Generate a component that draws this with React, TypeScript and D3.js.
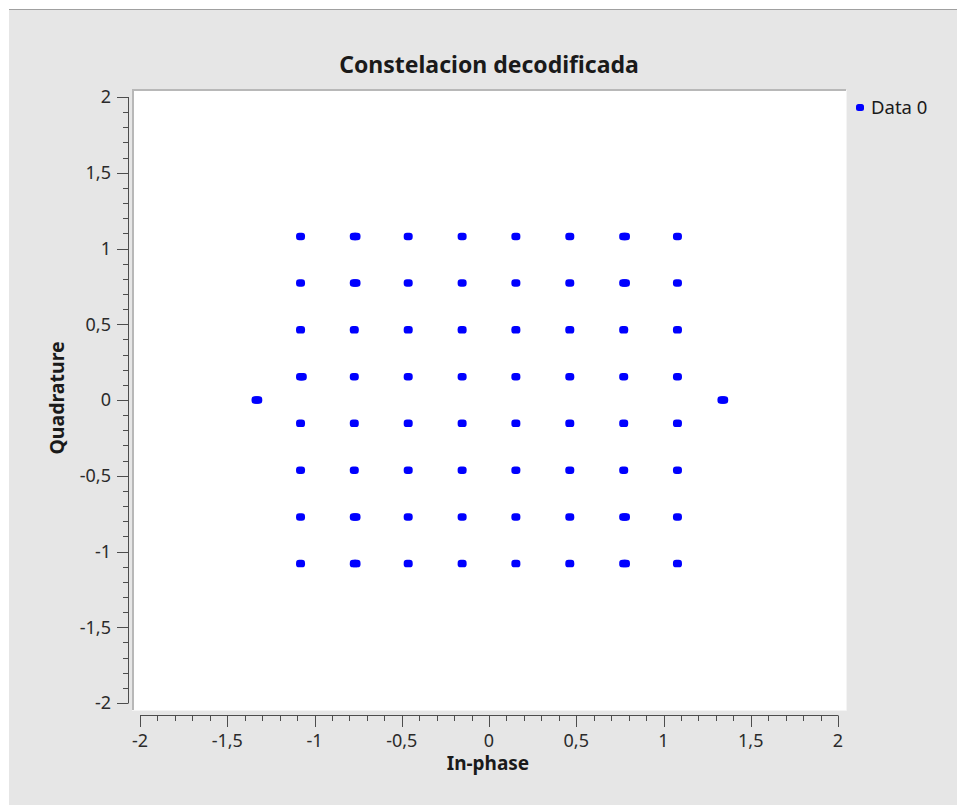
import React from "react";
import * as d3 from "d3";

const title = "Constelacion decodificada";
const xLabel = "In-phase";
const yLabel = "Quadrature";
const legendLabel = "Data 0";

// Levels (64-point grid)
const iLevels = [-1.08, -0.772, -0.463, -0.154, 0.154, 0.463, 0.772, 1.08];
const qLevels = [1.08, 0.772, 0.463, 0.154, -0.154, -0.463, -0.772, -1.08];

// Extra samples (outliers and doubled dots)
const extraI = [-1.335, -1.325, 1.335, 1.345, -0.762, 0.782, -0.762, 0.782, -0.762, 0.782, -0.762, 0.782, -1.07];
const extraQ = [0, 0, 0, 0, 1.08, 1.08, 0.772, 0.772, -0.772, -0.772, -1.08, -1.08, 0.154];

const majorTicks = [-2, -1.5, -1, -0.5, 0, 0.5, 1, 1.5, 2];
const majorTickLabels = ["-2", "-1,5", "-1", "-0,5", "0", "0,5", "1", "1,5", "2"];
const minorTicks = [
  -1.9, -1.8, -1.7, -1.6, -1.4, -1.3, -1.2, -1.1, -0.9, -0.8, -0.7, -0.6, -0.4, -0.3, -0.2, -0.1,
  0.1, 0.2, 0.3, 0.4, 0.6, 0.7, 0.8, 0.9, 1.1, 1.2, 1.3, 1.4, 1.6, 1.7, 1.8, 1.9,
];

const W = 957;
const H = 805;
const FONT = "'Noto Sans', 'Open Sans', sans-serif";
const AXIS = "#4d4d4d";
const DOT = "#0000ff";

export default function App() {
  const x = d3.scaleLinear().domain([-2, 2]).range([140, 838]);
  const y = d3.scaleLinear().domain([-2, 2]).range([703, 97]);

  const points: [number, number][] = [];
  qLevels.forEach((q) => iLevels.forEach((i) => points.push([i, q])));
  extraI.forEach((i, k) => points.push([i, extraQ[k]]));

  const canvas = { x0: 134, y0: 91, x1: 846, y1: 710 };
  const yAxisX = 128;
  const xAxisY = 715;
  const dotW = 9;
  const dotH = 7.5;

  return (
    <svg
      width={W}
      height={H}
      style={{ position: "absolute", left: 0, top: 0, display: "block" }}
      fontFamily={FONT}
    >
      <rect x={0} y={0} width={W} height={H} fill="#ffffff" />
      <rect x={9} y={9} width={W - 9} height={H - 9} fill="#e6e6e6" />
      <line x1={9} x2={W} y1={9.5} y2={9.5} stroke="#a0a0a0" strokeWidth={1} />

      {/* canvas */}
      <rect x={canvas.x0} y={canvas.y0} width={canvas.x1 - canvas.x0} height={canvas.y1 - canvas.y0} fill="#ffffff" />
      <path
        d={`M${canvas.x0 - 1},${canvas.y1} V${canvas.y0 - 1} H${canvas.x1}`}
        fill="none"
        stroke="#b8b8b8"
        strokeWidth={2}
      />
      <path
        d={`M${canvas.x1 + 0.5},${canvas.y0 - 1} V${canvas.y1 + 0.5} H${canvas.x0 - 2}`}
        fill="none"
        stroke="#f4f4f4"
        strokeWidth={1}
      />

      {/* title */}
      <text x={489} y={73} textAnchor="middle" fontSize={23} fontWeight="bold" fill="#1a1a1a">
        {title}
      </text>

      {/* y axis */}
      <line x1={yAxisX + 0.5} x2={yAxisX + 0.5} y1={y(2)} y2={y(-2)} stroke={AXIS} strokeWidth={1} />
      {majorTicks.map((t, k) => (
        <g key={"ym" + k}>
          <line x1={117} x2={yAxisX + 0.5} y1={Math.round(y(t)) + 0.5} y2={Math.round(y(t)) + 0.5} stroke={AXIS} />
          <text x={111} y={y(t)} dy="0.36em" textAnchor="end" fontSize={18} fill="#2b2b2b">
            {majorTickLabels[k]}
          </text>
        </g>
      ))}
      {minorTicks.map((t, k) => (
        <line key={"yn" + k} x1={123} x2={yAxisX + 0.5} y1={Math.round(y(t)) + 0.5} y2={Math.round(y(t)) + 0.5} stroke={AXIS} />
      ))}
      <text
        transform={`translate(64,398) rotate(-90)`}
        textAnchor="middle"
        fontSize={19.5}
        fontWeight="bold"
        fill="#1a1a1a"
      >
        {yLabel}
      </text>

      {/* x axis */}
      <line x1={x(-2)} x2={x(2)} y1={xAxisY + 0.5} y2={xAxisY + 0.5} stroke={AXIS} strokeWidth={1} />
      {majorTicks.map((t, k) => (
        <g key={"xm" + k}>
          <line x1={Math.round(x(t)) + 0.5} x2={Math.round(x(t)) + 0.5} y1={xAxisY + 0.5} y2={727} stroke={AXIS} />
          <text x={x(t)} y={747} textAnchor="middle" fontSize={18} fill="#2b2b2b">
            {majorTickLabels[k]}
          </text>
        </g>
      ))}
      {minorTicks.map((t, k) => (
        <line key={"xn" + k} x1={Math.round(x(t)) + 0.5} x2={Math.round(x(t)) + 0.5} y1={xAxisY + 0.5} y2={721} stroke={AXIS} />
      ))}
      <text x={488} y={770} textAnchor="middle" fontSize={19} fontWeight="bold" fill="#1a1a1a">
        {xLabel}
      </text>

      {/* points */}
      <g fill={DOT}>
        {points.map(([i, q], k) => (
          <rect
            key={"p" + k}
            x={x(i) - dotW / 2}
            y={y(q) - dotH / 2}
            width={dotW}
            height={dotH}
            rx={3.2}
            ry={3.2}
          />
        ))}
      </g>

      {/* legend */}
      <rect x={856} y={104} width={8} height={7} rx={2.5} fill={DOT} />
      <text x={871} y={114} fontSize={18.5} fill="#1a1a1a">
        {legendLabel}
      </text>
    </svg>
  );
}
